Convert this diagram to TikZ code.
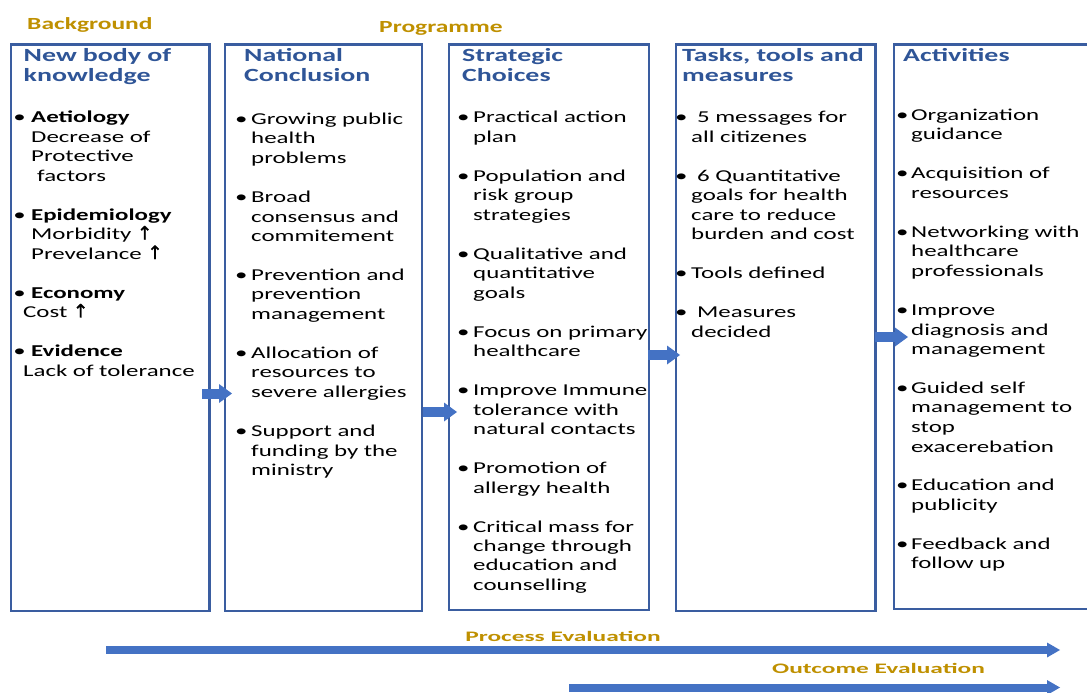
\documentclass[tikz,border=0pt]{standalone}
\usepackage{fontspec}
\setmainfont{Carlito}[FakeStretch=1.5]
\newfontfamily\evalfont{Carlito}[FakeStretch=1.75]
\newfontfamily\arrowfont{DejaVu Sans}[FakeBold=1.5]
\usetikzlibrary{arrows.meta}

\definecolor{frameblue}{HTML}{3A5DA0}
\definecolor{headblue}{HTML}{2F5597}
\definecolor{arrowblue}{HTML}{4472C4}
\definecolor{stagegold}{HTML}{BF9000}

% bullet hung to the left of the text column
\newcommand\bul[1][10pt]{\leavevmode\llap{\makebox[0pt][c]{\textbullet}\hspace{#1}}}
\newcommand\upar{{\arrowfont\fontsize{18.5}{19.5}\selectfont ↑}}
\newcommand\gap{\\[19.5pt]}

\tikzset{
  frame/.style={draw=frameblue, line width=2.5pt, anchor=north west, inner sep=0pt, outer sep=0pt},
  head/.style={anchor=base west, inner sep=0pt, text width=210pt, align=left, text=headblue,
    font=\fontsize{18.6}{20}\selectfont\bfseries},
  body/.style={anchor=base west, inner sep=0pt, text width=240pt, align=left,
    font=\fontsize{16.6}{19.5}\selectfont},
  stage/.style={anchor=base west, inner sep=0pt, text=stagegold,
    font=\fontsize{17}{20}\selectfont\bfseries},
  evallabel/.style={anchor=base, inner sep=0pt, text=stagegold,
    font=\evalfont\fontsize{14.5}{17}\selectfont\bfseries},
  link/.style={draw=arrowblue, line width=10pt,
    -{Triangle[length=13pt,width=19pt,line width=0pt]}},
  timeline/.style={draw=arrowblue, line width=8pt,
    -{Triangle[length=13pt,width=15pt,line width=0pt]}},
}

\begin{document}
\begin{tikzpicture}[x=1pt,y=-1pt]
\useasboundingbox (0,0) rectangle (1087,693);
\clip (0,0) rectangle (1087,693);

% stage titles
\node[stage] (bg) at (27,29.3) {Background};
\node[stage] (pg) at (379,32.7) {Programme};

% columns
\node[frame, minimum width=198.5pt, minimum height=566.5pt] (b1) at (11,44.5) {};
\node[frame, minimum width=197pt,   minimum height=566.5pt] (b2) at (225,44.5) {};
\node[frame, minimum width=200pt,   minimum height=565.5pt] (b3) at (449,44.5) {};
\node[frame, minimum width=199.5pt, minimum height=566.5pt] (b4) at (676,44.5) {};
\node[frame, minimum width=210pt,   minimum height=564.5pt] (b5) at (894,44.5) {};

% column headings
\node[head] (h1) at (23.5,61.5) {New body of\\knowledge};
\node[head] (h2) at (244,61.5) {National\\Conclusion};
\node[head] (h3) at (462,61.5) {Strategic\\Choices};
\node[head] (h4) at (682,61.5) {Tasks, tools and\\measures};
\node[head] (h5) at (903,61.5) {Activities};

% column contents
\node[body] (t1) at (31,122.5) {%
\bul[11.5pt]\textbf{Aetiology}\\
Decrease of\\
Protective\\
\hspace*{6pt}factors\gap
\bul[11.5pt]\textbf{Epidemiology}\\
Morbidity \upar\\
Prevelance \upar\gap
\bul[11.5pt]\textbf{Economy}\\
\hspace*{-8pt}Cost \upar\gap
\bul[11.5pt]\textbf{Evidence}\\
\hspace*{-8pt}Lack of tolerance};

\node[body] (t2) at (251,124.5) {%
\bul Growing public\\
health\\
problems\gap
\bul Broad\\
consensus and\\
commitement\gap
\bul Prevention and\\
prevention\\
management\gap
\bul Allocation of\\
resources to\\
severe allergies\gap
\bul Support and\\
funding by the\\
ministry};

\node[body] (t3) at (473,122.5) {%
\bul Practical action\\
plan\gap
\bul Population and\\
risk group\\
strategies\gap
\bul Qualitative and\\
quantitative\\
goals\gap
\bul Focus on primary\\
healthcare\gap
\bul Improve Immune\\
tolerance with\\
natural contacts\gap
\bul Promotion of\\
allergy health\gap
\bul Critical mass for\\
change through\\
education and\\
counselling};

\node[body] (t4) at (691,122.5) {%
\bul\hspace*{6pt}5 messages for\\
all citizenes\gap
\bul\hspace*{6pt}6 Quantitative\\
goals for health\\
care to reduce\\
burden and cost\gap
\bul Tools defined\gap
\bul\hspace*{6pt}Measures\\
decided};

\node[body] (t5) at (911,120.5) {%
\bul[9pt]Organization\\
guidance\gap
\bul[9pt]Acquisition of\\
resources\gap
\bul[9pt]Networking with\\
healthcare\\
professionals\gap
\bul[9pt]Improve\\
diagnosis and\\
management\gap
\bul[9pt]Guided self\\
management to\\
stop\\
exacerebation\gap
\bul[9pt]Education and\\
publicity\gap
\bul[9pt]Feedback and\\
follow up};

% links between columns
\coordinate (l1) at (0,393.5);
\coordinate (l2) at (0,412);
\coordinate (l3) at (0,355);
\coordinate (l4) at (0,337);
\draw[link, shorten <=-7.5pt, shorten >=-7pt] (b1.east |- l1) -- (b2.west |- l1);
\draw[link, shorten <=1pt,    shorten >=-8pt] (b2.east |- l2) -- (b3.west |- l2);
\draw[link, shorten <=-1pt,   shorten >=-4pt] (b3.east |- l3) -- (b4.west |- l3);
\draw[link, shorten <=-0.5pt, shorten >=-14pt] (b4.east |- l4) -- (b5.west |- l4);

% evaluation timelines
\coordinate (pe1) at (106,650);
\coordinate (pe2) at (1060,650);
\coordinate (oe1) at (569,687.5);
\coordinate (oe2) at (1060,687.5);
\node[evallabel] (pel) at (563,641) {Process Evaluation};
\node[evallabel] (oel) at (878.5,673) {Outcome Evaluation};
\draw[timeline] (pe1) -- (pe2);
\draw[timeline] (oe1) -- (oe2);
\end{tikzpicture}
\end{document}
